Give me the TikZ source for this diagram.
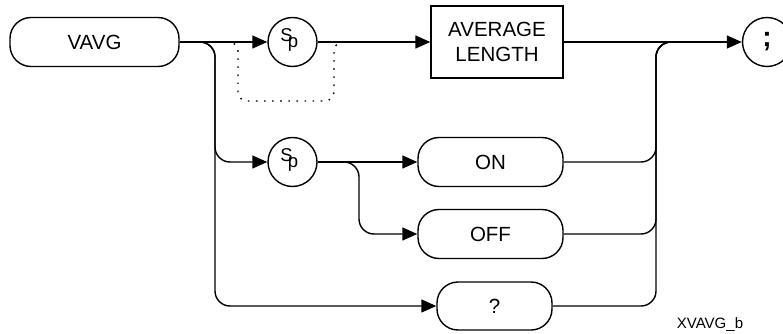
\documentclass[tikz,border=0pt]{standalone}
\usepackage{fontspec}
\setmainfont{Liberation Sans}
\usetikzlibrary{arrows.meta}
\newcommand\spmark{\smash{\makebox[0pt][l]{\hspace{-6pt}\makebox[0pt][c]{\raisebox{0.5pt}{S}}\hspace{6.5pt}\makebox[0pt][c]{\raisebox{-5.5pt}{p}}}}}
\begin{document}
\begin{tikzpicture}[x=1pt,y=-1pt,
  line width=1.4pt,
  every node/.style={font=\fontsize{20.5}{25}\selectfont, inner sep=0pt},
  term/.style={draw, rounded corners=21pt, minimum height=49pt},
  spc/.style={draw, circle, minimum size=49pt},
  spnode/.style={spc, font=\fontsize{18.5}{20}\selectfont},
  box/.style={draw, rectangle, align=center},
  arr/.style={-{Triangle[length=15pt,width=13pt]}},
  rr/.style={rounded corners=15pt},
  dotline/.style={dash pattern=on 1.6pt off 6.5pt, rounded corners=9pt},
  ]
\useasboundingbox (0,0) rectangle (783,334);

% nodes
\node[term, minimum width=169pt] (vavg) at (94.5,42) {VAVG};
\node[spnode] (sp1) at (292.5,42) {\spmark};
\node[box, minimum width=132pt, minimum height=72pt] (avg) at (497,42) {AVERAGE\\LENGTH};
\node[spc, font=\fontsize{28}{30}\selectfont\bfseries] (semi) at (767,42) {;};
\node[spnode] (sp2) at (292.5,162) {\spmark};
\node[term, minimum width=145pt] (on) at (490.5,162) {ON};
\node[term, minimum width=145pt] (off) at (490.5,234) {OFF};
\node[term, minimum width=115pt, minimum height=48pt] (q) at (494.5,306) {?};
\node[font=\fontsize{15}{17}\selectfont, anchor=base] (fig) at (710,328) {XVAVG\_b};

% bus coordinates
\coordinate (lb) at (215,0);
\coordinate (bx) at (359,0);
\coordinate (rb) at (656,0);
\coordinate (rj) at (700,42);
\coordinate (d1) at (226,42);
\coordinate (d2) at (350,42);

% main line
\draw[arr] (vavg.east) -- (sp1.west);
\draw[arr] (sp1.east) -- (avg.west);
\draw[arr] (avg.east) -- (semi.west);

% dotted bypass
\draw[dotline] (d1) -- (238,42) -- (238,101) -- (334,101) -- (334,42) -- (d2);

% left bus
\draw[arr, rr] (vavg.east) -| (lb |- sp2) -- (sp2.west);
\draw[arr, rr] (vavg.east) -| (lb |- q) -- (q.west);

% ON / OFF
\draw[arr] (sp2.east) -- (on.west);
\draw[arr, rr] (sp2.east) -| (bx |- off) -- (off.west);

% right bus
\draw[rr] (on.east) -| (rb |- semi) -- (rj);
\draw[rr] (off.east) -| (rb |- semi) -- (rj);
\draw[rr] (q.east) -| (rb |- semi) -- (rj);
\end{tikzpicture}
\end{document}
